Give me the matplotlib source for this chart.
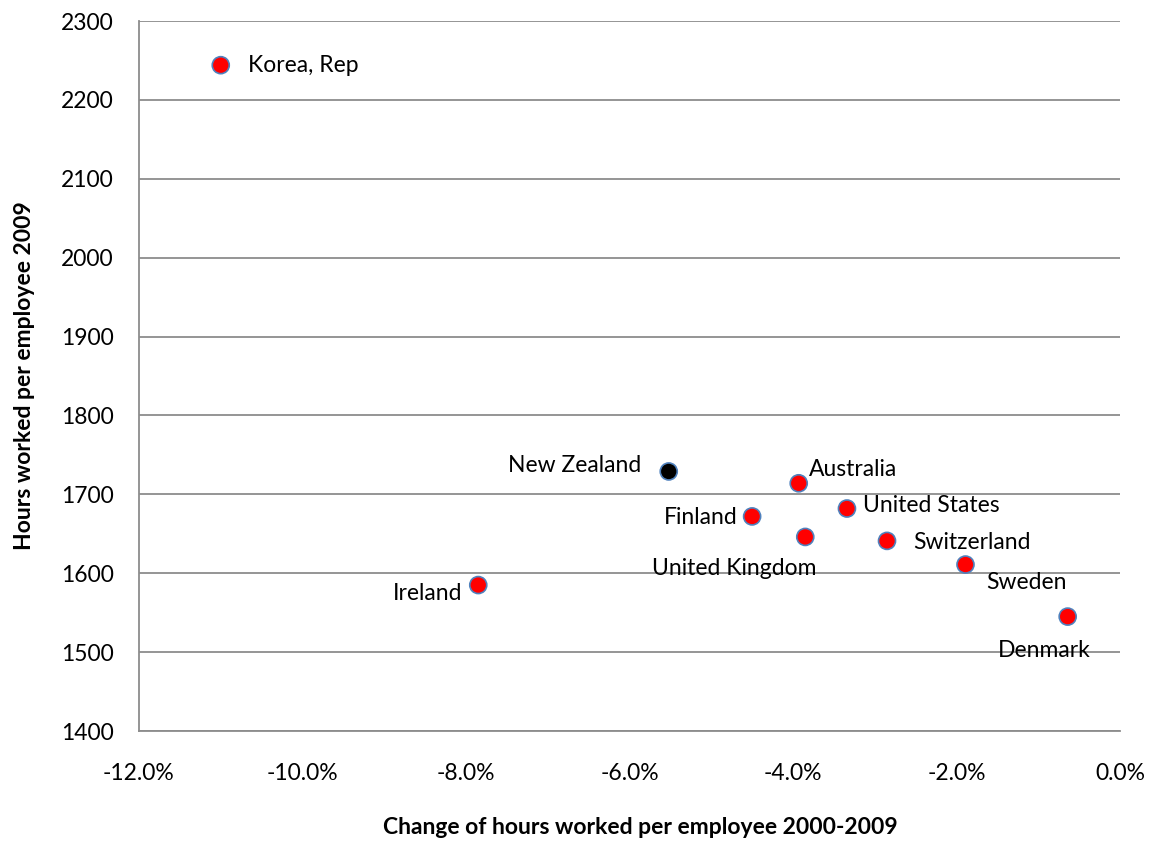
import matplotlib
matplotlib.use("Agg")
import matplotlib.pyplot as plt
from matplotlib.ticker import FuncFormatter, MultipleLocator

plt.rcParams['font.family'] = ['Lato', 'DejaVu Sans']

countries = ["Korea, Rep", "New Zealand", "Australia", "Finland", "United Kingdom",
             "United States", "Switzerland", "Sweden", "Denmark", "Ireland"]
change_pct = [-11.0, -5.52, -3.93, -4.50, -3.85, -3.34, -2.85, -1.89, -0.64, -7.85]
hours_2009 = [2244, 1729, 1714, 1672, 1646, 1682, 1641, 1611, 1545, 1585]
colors = ["red", "black", "red", "red", "red", "red", "red", "red", "red", "red"]

# label offsets in pixels (dx, dy) and alignment
label_pos = {
    "Korea, Rep": (27, 0, "left"),
    "New Zealand": (-27, 6, "right"),
    "Australia": (10, 14, "left"),
    "Finland": (-15, -1, "right"),
    "United Kingdom": (-71, -32, "center"),
    "United States": (16, 3, "left"),
    "Switzerland": (26, -2, "left"),
    "Sweden": (21, -18, "left"),
    "Denmark": (-23, -34, "center"),
    "Ireland": (-16, -8, "right"),
}

FS = 16.5

fig = plt.figure(figsize=(11.49, 8.41), dpi=100)
ax = fig.add_axes([139/1149, (841-731)/841, (1120-139)/1149, (731-21)/841])

ax.scatter(change_pct, hours_2009, s=150, c=colors, edgecolors="#4F81BD",
           linewidths=1.2, zorder=3)

for name, x, y in zip(countries, change_pct, hours_2009):
    dx, dy, ha = label_pos[name]
    ax.annotate(name, (x, y), xytext=(dx, dy), textcoords="offset pixels",
                ha=ha, va="center", fontsize=FS, color="black", zorder=4)

ax.set_xlim(-12, 0)
ax.set_ylim(1400, 2300)
ax.xaxis.set_major_locator(MultipleLocator(2))
ax.yaxis.set_major_locator(MultipleLocator(100))
ax.xaxis.set_major_formatter(FuncFormatter(lambda v, p: f"{v:.1f}%"))
ax.grid(axis="y", color="#8c8c8c", linewidth=1.3, zorder=0)
ax.set_axisbelow(True)

for s in ["top", "right"]:
    ax.spines[s].set_visible(False)
ax.spines["left"].set_color("#8c8c8c")
ax.spines["left"].set_linewidth(1.3)
ax.spines["bottom"].set_color("#8c8c8c")
ax.spines["bottom"].set_linewidth(1.3)

ax.tick_params(axis="both", length=0, labelsize=FS)
ax.tick_params(axis="y", pad=18)
ax.tick_params(axis="x", pad=23)

ax.set_xlabel("Change of hours worked per employee 2000-2009", fontsize=FS,
              fontweight="bold")
ax.set_ylabel("Hours worked per employee 2009", fontsize=FS,
              fontweight="bold")
ax.xaxis.set_label_coords((640-139)/981, (731-828)/710)
ax.xaxis.label.set_va("center")
ax.yaxis.set_label_coords((25-139)/981, 0.5)
ax.yaxis.label.set_va("center")

fig.savefig("out.png", dpi=100)
